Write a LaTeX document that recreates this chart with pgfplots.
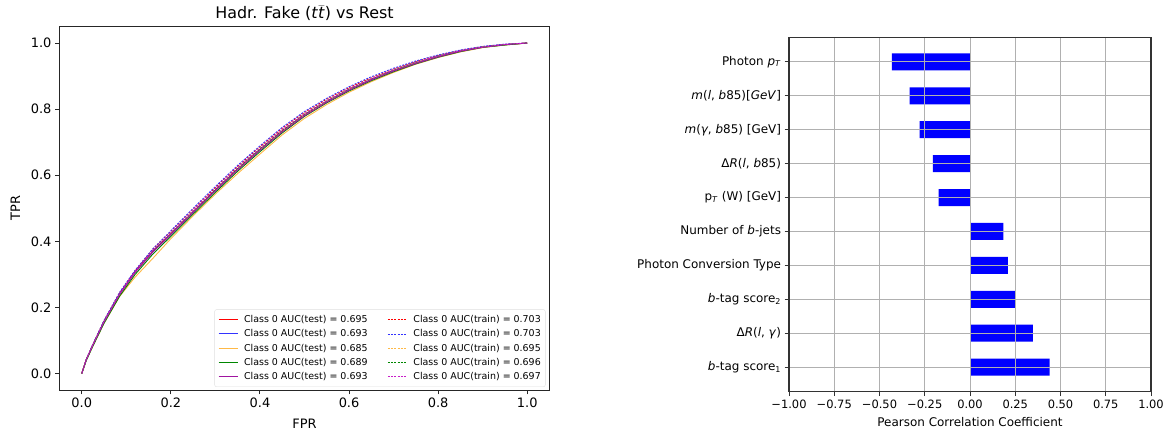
\documentclass[border=0pt]{standalone}
\usepackage{fontspec}
\setmainfont{DejaVu Sans}
\usepackage{pgfplots}
\pgfplotsset{compat=1.18}
\definecolor{rocorange}{RGB}{255,185,70}
\definecolor{rocgreen}{RGB}{0,135,0}
\definecolor{rocpurple}{RGB}{160,20,160}
\definecolor{rocmag}{RGB}{200,30,200}
\definecolor{gridc}{RGB}{176,176,176}
\begin{document}
\begin{tikzpicture}
\path[use as bounding box] (0,0) rectangle (1173bp,436bp);
\begin{axis}[
  at={(59.5bp,46bp)}, anchor=south west, scale only axis,
  width=490bp, height=363.5bp,
  xmin=-0.05, xmax=1.05, ymin=-0.05, ymax=1.05,
  xtick={0,0.2,0.4,0.6,0.8,1}, xticklabels={0.0,0.2,0.4,0.6,0.8,1.0},
  ytick={0,0.2,0.4,0.6,0.8,1}, yticklabels={0.0,0.2,0.4,0.6,0.8,1.0},
  tick align=outside, tick pos=left, major tick length=4.5bp,
  ticklabel style={font=\fontsize{13}{15}\selectfont},
  axis line style={black!85, line width=1bp},
  every tick/.style={black!85, line width=1bp},
  every axis title shift=0pt,
  title={Hadr. Fake (\textit{t}$\bar{\mbox{\textit{t}}}$) vs Rest},
  title style={font=\fontsize{16}{19}\selectfont, at={(axis description cs:0.5,1.0363)}, anchor=center},
  xlabel={FPR}, xlabel style={font=\fontsize{13}{15}\selectfont, at={(axis description cs:0.5,-0.0935)}, anchor=center},
  ylabel={TPR}, ylabel style={font=\fontsize{13}{15}\selectfont, at={(axis description cs:-0.0898,0.5)}, anchor=center},
  legend columns=2,
  legend image code/.code={\draw[#1] (0bp,0bp) -- (19bp,0bp);},
  legend style={at={(1,0)}, anchor=south east, xshift=-4bp, yshift=3bp,
    draw=gray!25, rounded corners=2bp, font=\fontsize{9.5}{11}\selectfont,
    inner sep=3.5bp, column sep=0bp, row sep=1.3bp,
    nodes={inner sep=1bp, text height=8.5bp, text depth=2.5bp},
    /tikz/every odd column/.append style={column sep=5bp},
    /tikz/every even column/.append style={column sep=19bp}},
  legend cell align=left,
]
\addplot[color=red, line width=0.9bp] coordinates {(0,0) (0.01,0.042) (0.025,0.087) (0.05,0.158) (0.085,0.242) (0.12,0.310) (0.16,0.372) (0.2,0.423) (0.25,0.489) (0.3,0.555) (0.35,0.619) (0.4,0.678) (0.45,0.734) (0.5,0.783) (0.55,0.823) (0.6,0.859) (0.65,0.890) (0.7,0.917) (0.75,0.940) (0.8,0.960) (0.85,0.976) (0.9,0.988) (0.95,0.995) (1,1)};
\addlegendentry{Class 0 AUC(test) = 0.695}
\addplot[color=red, line width=0.8bp, dash pattern=on 2bp off 1.2bp] coordinates {(0,0) (0.01,0.042) (0.025,0.088) (0.05,0.160) (0.085,0.245) (0.12,0.312) (0.16,0.377) (0.2,0.430) (0.25,0.497) (0.3,0.563) (0.35,0.627) (0.4,0.686) (0.45,0.742) (0.5,0.790) (0.55,0.830) (0.6,0.865) (0.65,0.895) (0.7,0.921) (0.75,0.944) (0.8,0.963) (0.85,0.978) (0.9,0.989) (0.95,0.996) (1,1)};
\addlegendentry{Class 0 AUC(train) = 0.703}
\addplot[color=blue!80!white, line width=0.9bp] coordinates {(0,0) (0.01,0.041) (0.025,0.086) (0.05,0.157) (0.085,0.240) (0.12,0.307) (0.16,0.369) (0.2,0.421) (0.25,0.488) (0.3,0.553) (0.35,0.617) (0.4,0.676) (0.45,0.732) (0.5,0.781) (0.55,0.822) (0.6,0.858) (0.65,0.889) (0.7,0.916) (0.75,0.939) (0.8,0.959) (0.85,0.975) (0.9,0.987) (0.95,0.995) (1,1)};
\addlegendentry{Class 0 AUC(test) = 0.693}
\addplot[color=blue!80!white, line width=0.8bp, dash pattern=on 2bp off 1.2bp] coordinates {(0,0) (0.01,0.043) (0.025,0.089) (0.05,0.161) (0.085,0.246) (0.12,0.313) (0.16,0.378) (0.2,0.432) (0.25,0.500) (0.3,0.566) (0.35,0.630) (0.4,0.689) (0.45,0.745) (0.5,0.793) (0.55,0.833) (0.6,0.868) (0.65,0.898) (0.7,0.924) (0.75,0.946) (0.8,0.964) (0.85,0.979) (0.9,0.990) (0.95,0.997) (1,1)};
\addlegendentry{Class 0 AUC(train) = 0.703}
\addplot[color=rocorange, line width=0.9bp] coordinates {(0,0) (0.01,0.040) (0.025,0.083) (0.05,0.152) (0.085,0.233) (0.12,0.292) (0.16,0.349) (0.2,0.408) (0.25,0.477) (0.3,0.543) (0.35,0.605) (0.4,0.664) (0.45,0.722) (0.5,0.772) (0.55,0.814) (0.6,0.851) (0.65,0.883) (0.7,0.911) (0.75,0.936) (0.8,0.956) (0.85,0.973) (0.9,0.986) (0.95,0.994) (1,1)};
\addlegendentry{Class 0 AUC(test) = 0.685}
\addplot[color=rocorange, line width=0.8bp, dash pattern=on 2bp off 1.2bp] coordinates {(0,0) (0.01,0.041) (0.025,0.086) (0.05,0.156) (0.085,0.239) (0.12,0.305) (0.16,0.369) (0.2,0.422) (0.25,0.489) (0.3,0.554) (0.35,0.618) (0.4,0.677) (0.45,0.733) (0.5,0.782) (0.55,0.823) (0.6,0.859) (0.65,0.890) (0.7,0.917) (0.75,0.940) (0.8,0.960) (0.85,0.976) (0.9,0.988) (0.95,0.995) (1,1)};
\addlegendentry{Class 0 AUC(train) = 0.695}
\addplot[color=rocgreen, line width=0.9bp] coordinates {(0,0) (0.01,0.039) (0.025,0.083) (0.05,0.152) (0.085,0.234) (0.12,0.300) (0.16,0.362) (0.2,0.415) (0.25,0.482) (0.3,0.548) (0.35,0.612) (0.4,0.671) (0.45,0.728) (0.5,0.778) (0.55,0.819) (0.6,0.855) (0.65,0.886) (0.7,0.913) (0.75,0.937) (0.8,0.957) (0.85,0.974) (0.9,0.987) (0.95,0.994) (1,1)};
\addlegendentry{Class 0 AUC(test) = 0.689}
\addplot[color=rocgreen, line width=0.8bp, dash pattern=on 2bp off 1.2bp] coordinates {(0,0) (0.01,0.041) (0.025,0.087) (0.05,0.158) (0.085,0.241) (0.12,0.307) (0.16,0.371) (0.2,0.424) (0.25,0.491) (0.3,0.557) (0.35,0.621) (0.4,0.680) (0.45,0.736) (0.5,0.785) (0.55,0.825) (0.6,0.861) (0.65,0.891) (0.7,0.918) (0.75,0.941) (0.8,0.961) (0.85,0.976) (0.9,0.988) (0.95,0.995) (1,1)};
\addlegendentry{Class 0 AUC(train) = 0.696}
\addplot[color=rocpurple, line width=0.9bp] coordinates {(0,0) (0.01,0.041) (0.025,0.086) (0.05,0.156) (0.085,0.239) (0.12,0.306) (0.16,0.368) (0.2,0.420) (0.25,0.487) (0.3,0.553) (0.35,0.616) (0.4,0.675) (0.45,0.731) (0.5,0.780) (0.55,0.821) (0.6,0.857) (0.65,0.888) (0.7,0.915) (0.75,0.938) (0.8,0.958) (0.85,0.975) (0.9,0.987) (0.95,0.995) (1,1)};
\addlegendentry{Class 0 AUC(test) = 0.693}
\addplot[color=rocmag, line width=0.8bp, dash pattern=on 2bp off 1.2bp] coordinates {(0,0) (0.01,0.042) (0.025,0.087) (0.05,0.158) (0.085,0.242) (0.12,0.309) (0.16,0.373) (0.2,0.426) (0.25,0.493) (0.3,0.559) (0.35,0.623) (0.4,0.682) (0.45,0.738) (0.5,0.786) (0.55,0.826) (0.6,0.862) (0.65,0.892) (0.7,0.919) (0.75,0.942) (0.8,0.961) (0.85,0.977) (0.9,0.988) (0.95,0.996) (1,1)};
\addlegendentry{Class 0 AUC(train) = 0.697}
\end{axis}
\begin{axis}[
  at={(789bp,44.3bp)}, anchor=south west, scale only axis,
  width=362bp, height=354.4bp,
  xmin=-1, xmax=1, ymin=-0.725, ymax=9.725,
  xtick={-1,-0.75,-0.5,-0.25,0,0.25,0.5,0.75,1},
  xticklabels={−1.00,−0.75,−0.50,−0.25,0.00,0.25,0.50,0.75,1.00},
  ytick={0,1,2,3,4,5,6,7,8,9},
  yticklabels={
    {\textit{b}-tag score\textsubscript{1}},
    {Δ\textit{R}(\textit{l}, \textit{γ})},
    {\textit{b}-tag score\textsubscript{2}},
    {Photon Conversion Type},
    {Number of \textit{b}-jets},
    {p\textsubscript{\textit{T}} (W) [GeV]},
    {Δ\textit{R}(\textit{l}, \textit{b}85)},
    {\textit{m}(\textit{γ}, \textit{b}85) [GeV]},
    {\textit{m}(\textit{l}, \textit{b}85)[\textit{GeV}]},
    {Photon \textit{p}\textsubscript{\textit{T}}}},
  tick align=outside, tick pos=left, major tick length=4.5bp,
  xticklabel style={font=\fontsize{11.5}{13}\selectfont},
  yticklabel style={font=\fontsize{12}{14}\selectfont},
  axis line style={black!80, line width=1.1bp},
  every tick/.style={black!80, line width=1bp},
  grid=major, major grid style={gridc, line width=1bp},
  axis on top,
  xlabel={Pearson Correlation Coefficient},
  xlabel style={font=\fontsize{12}{14}\selectfont, at={(axis description cs:0.5,-0.0855)}, anchor=center},
]
\addplot[xbar, bar width=0.5, fill=blue, draw=none] coordinates {(0.440,0) (0.347,1) (0.250,2) (0.209,3) (0.185,4) (-0.174,5) (-0.205,6) (-0.278,7) (-0.333,8) (-0.432,9)};
\end{axis}
\end{tikzpicture}
\end{document}
